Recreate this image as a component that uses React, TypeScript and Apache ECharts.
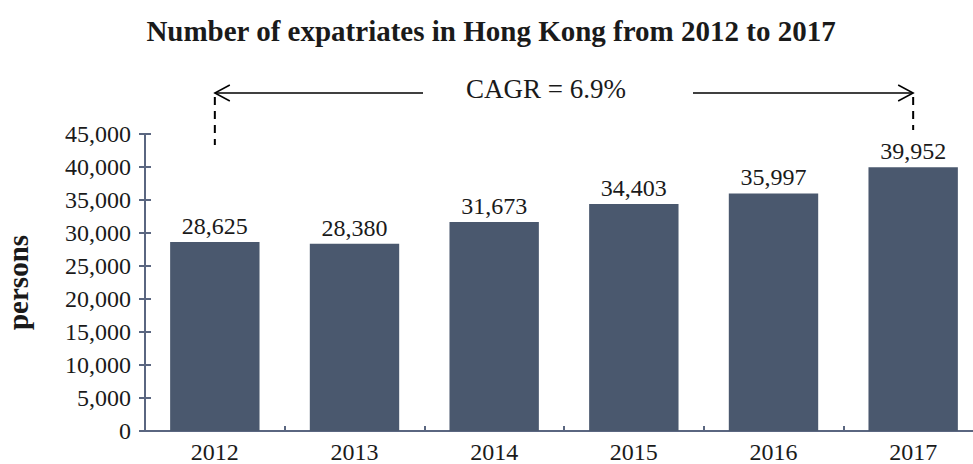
import React, { useEffect, useRef } from "react";
import * as echarts from "echarts";

const years = ["2012", "2013", "2014", "2015", "2016", "2017"];
const expatriates = [28625, 28380, 31673, 34403, 35997, 39952];
const yMin = 0;
const yMax = 45000;
const yInterval = 5000;
const titleText = "Number of expatriates in Hong Kong from 2012 to 2017";
const yAxisName = "persons";
const cagrText = "CAGR = 6.9%";

const SERIF = "'Liberation Serif', 'Times New Roman', serif";
const AXIS_COLOR = "#5a6680";
const BAR_COLOR = "#4a586e";

export default function App() {
  const ref = useRef<HTMLDivElement>(null);
  useEffect(() => {
    if (!ref.current) return;
    const chart = echarts.init(ref.current, null, { renderer: "svg" });
    const fmt = (v: number) => v.toLocaleString("en-US");
    chart.setOption({
      animation: false,
      backgroundColor: "#ffffff",
      title: {
        text: titleText,
        left: 486,
        textAlign: "center",
        top: 11,
        textStyle: { fontFamily: SERIF, fontWeight: "bold", fontSize: 29, color: "#1a1a1a" },
      },
      grid: { left: 145, right: -10, top: 134, bottom: 33, outerBoundsMode: "none", containLabel: false },
      xAxis: {
        type: "category",
        data: years,
        axisLine: { lineStyle: { color: AXIS_COLOR, width: 2 } },
        axisTick: { show: true, inside: true, length: 5, alignWithLabel: false, lineStyle: { color: AXIS_COLOR, width: 2 } },
        axisLabel: { fontFamily: SERIF, fontSize: 24, color: "#1a1a1a", margin: 9 },
      },
      yAxis: [
        {
          type: "value",
          min: yMin,
          max: yMax,
          interval: yInterval,
          name: yAxisName,
          nameLocation: "middle",
          nameRotate: 90,
          nameGap: 113,
          nameTextStyle: { fontFamily: SERIF, fontWeight: "bold", fontSize: 29, color: "#1a1a1a" },
          axisLine: { show: true, lineStyle: { color: AXIS_COLOR, width: 2 } },
          axisTick: { show: true, length: 6, lineStyle: { color: AXIS_COLOR, width: 2 } },
          splitLine: { show: false },
          axisLabel: { fontFamily: SERIF, fontSize: 24, color: "#1a1a1a", margin: 14, formatter: fmt },
        },
        {
          type: "value",
          position: "left",
          offset: 0,
          min: yMin,
          max: yMax,
          interval: yInterval,
          axisLine: { show: false },
          axisTick: { show: true, inside: true, length: 6, lineStyle: { color: AXIS_COLOR, width: 2 } },
          splitLine: { show: false },
          axisLabel: { show: false },
        },
      ],
      series: [
        {
          type: "bar",
          data: expatriates,
          barWidth: "64%",
          itemStyle: { color: BAR_COLOR },
          label: {
            show: true,
            position: "top",
            distance: 4,
            fontFamily: SERIF,
            fontSize: 24,
            color: "#1a1a1a",
            formatter: (p: any) => fmt(p.value),
          },
        },
      ],
    });

    const x0 = chart.convertToPixel({ xAxisIndex: 0 }, years[0]) as number;
    const x1 = chart.convertToPixel({ xAxisIndex: 0 }, years[years.length - 1]) as number;
    const ay = 93;
    const lineStyle = { stroke: "#000", lineWidth: 1.5 };
    const dashStyle = { stroke: "#000", lineWidth: 2, lineDash: [8, 6] };
    chart.setOption({
      graphic: [
        { type: "line", shape: { x1: x0, y1: ay, x2: 423, y2: ay }, style: lineStyle },
        { type: "polyline", shape: { points: [[x0 + 15, ay - 8], [x0, ay], [x0 + 15, ay + 8]] }, style: { ...lineStyle, fill: null } },
        { type: "line", shape: { x1: 693, y1: ay, x2: x1, y2: ay }, style: lineStyle },
        { type: "polyline", shape: { points: [[x1 - 15, ay - 8], [x1, ay], [x1 - 15, ay + 8]] }, style: { ...lineStyle, fill: null } },
        { type: "line", shape: { x1: x0, y1: ay + 4, x2: x0, y2: 145 }, style: dashStyle },
        { type: "line", shape: { x1: x1, y1: ay + 4, x2: x1, y2: 130 }, style: dashStyle },
        {
          type: "text",
          x: 546,
          y: 89,
          style: { text: cagrText, fontFamily: SERIF, fontSize: 27, fill: "#1a1a1a", align: "center", verticalAlign: "middle" },
        },
      ],
    });
    return () => chart.dispose();
  }, []);
  return <div ref={ref} style={{ width: 973, height: 464, position: "absolute", left: 0, top: 0 }} />;
}
